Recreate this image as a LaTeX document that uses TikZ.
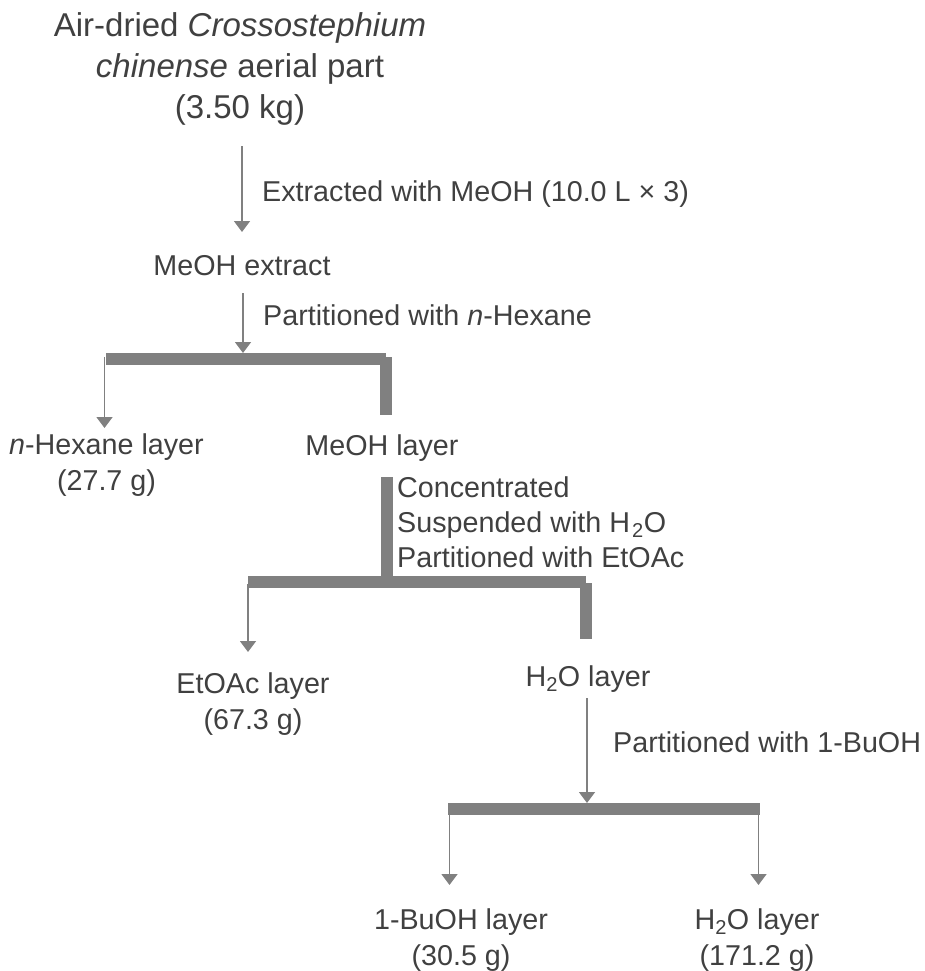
\documentclass[tikz,border=0pt]{standalone}
\usepackage{fontspec}
\setmainfont{Liberation Sans}
\usetikzlibrary{arrows.meta}
\definecolor{txt}{HTML}{404040}
\definecolor{ln}{HTML}{808080}
\begin{document}
\begin{tikzpicture}[x=1pt,y=-1pt,
  titlebox/.style={anchor=base, inner sep=0pt, text=txt, align=center, font=\fontsize{33}{40.7}\selectfont},
  lbl/.style={anchor=base, inner sep=0pt, text=txt, align=center, font=\fontsize{28.7}{35.5}\selectfont},
  side/.style={anchor=base west, inner sep=0pt, text=txt, align=left, font=\fontsize{28.7}{35}\selectfont},
  arr/.style={draw=ln, line width=1.5pt, -{Triangle[width=16pt,length=11pt]}},
  bar/.style={draw=ln, line width=12pt}]
\useasboundingbox (0,0) rectangle (924,971);

% texts (multi-line nodes are anchored at the baseline of their last line)
\node[titlebox] (src) at (240,118) {Air-dried \textit{Crossostephium}\\\textit{chinense} aerial part\\(3.50 kg)};
\node[side] (s1) at (262,201) {Extracted with MeOH (10.0 L × 3)};
\node[lbl] (ext) at (242,275) {MeOH extract};
\node[side] (s2) at (263,325) {Partitioned with \textit{n}-Hexane};
\node[lbl] (hex) at (106.5,490) {\textit{n}-Hexane layer\\(27.7 g)};
\node[lbl] (meoh) at (382,455) {MeOH layer};
\node[side] (s3) at (397,567) {Concentrated\\Suspended with H\kern2pt\textsubscript{2}O\\Partitioned with EtOAc};
\node[lbl] (etoac) at (253,729) {EtOAc layer\\(67.3 g)};
\node[lbl] (wat1) at (588,686) {H\textsubscript{2}O layer};
\node[side] (s4) at (613,752) {Partitioned with 1-BuOH};
\node[lbl] (buoh) at (461,965) {1-BuOH layer\\(30.5 g)};
\node[lbl] (wat2) at (757,965) {H\textsubscript{2}O layer\\(171.2 g)};

% junction coordinates
\coordinate (a1s) at (242,146);   \coordinate (a1e) at (242,232);
\coordinate (a2s) at (243,293);   \coordinate (a2e) at (243,353);
\coordinate (b1l) at (106,359);   \coordinate (b1r) at (386,359);
\coordinate (v1t) at (386,357);   \coordinate (v1b) at (386,415);
\coordinate (h1s) at (104.5,357); \coordinate (h1e) at (104.5,428);
\coordinate (v2t) at (387,477);   \coordinate (v2b) at (387,578);
\coordinate (b2l) at (248,582);   \coordinate (b2r) at (586,582);
\coordinate (v3t) at (586,583);   \coordinate (v3b) at (586,639);
\coordinate (e1s) at (248,584);   \coordinate (e1e) at (248,652);
\coordinate (a3s) at (587,698);   \coordinate (a3e) at (587,803);
\coordinate (b3l) at (448,809);   \coordinate (b3r) at (760,809);
\coordinate (l3s) at (449.5,815); \coordinate (l3e) at (449.5,885);
\coordinate (r3s) at (758.5,815); \coordinate (r3e) at (758.5,885);

% connectors
\draw[arr] (a1s) -- (a1e);
\draw[arr] (a2s) -- (a2e);
\draw[bar] (b1l) -- (b1r);
\draw[bar] (v1t) -- (v1b);
\draw[arr] (h1s) -- (h1e);
\draw[bar] (v2t) -- (v2b);
\draw[bar] (b2l) -- (b2r);
\draw[bar] (v3t) -- (v3b);
\draw[arr] (e1s) -- (e1e);
\draw[arr] (a3s) -- (a3e);
\draw[bar] (b3l) -- (b3r);
\draw[arr] (l3s) -- (l3e);
\draw[arr] (r3s) -- (r3e);
\end{tikzpicture}
\end{document}
